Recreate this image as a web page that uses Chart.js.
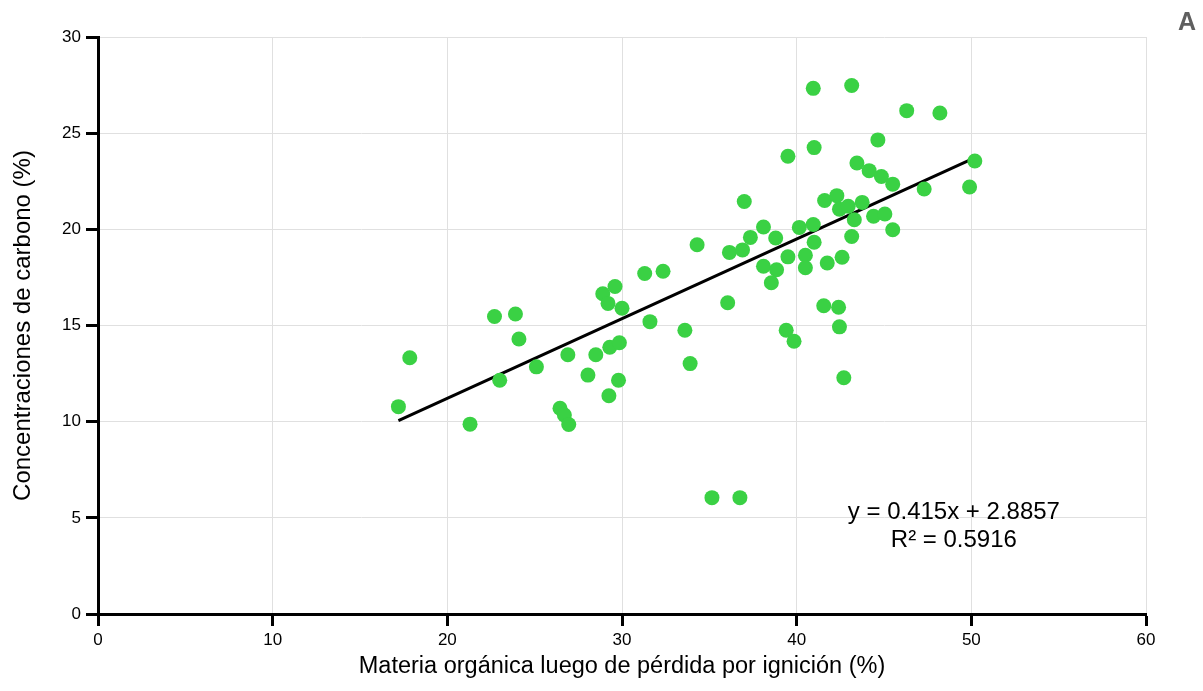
<!DOCTYPE html>
<html lang="es">
<head>
  <meta charset="UTF-8" />
  <title>Carbono vs materia orgánica</title>
  <script src="https://cdn.jsdelivr.net/npm/chart.js"></script>
  <style>
    * { box-sizing: border-box; }
    body { margin: 0; background: #fff; }
    #wrap { width: 1203px; height: 691px; position: relative; }
  </style>
</head>
<body>
  <div id="wrap">
    <canvas id="grafico"></canvas>
  </div>

  <script>
    // Materia orgánica (LOI, %) y concentración de carbono (%)
    const loi = [
      17.2, 17.85, 21.3, 22.7, 23.9, 24.1, 23.0, 25.1, 26.45, 26.7,
      26.95, 26.9, 28.05, 28.5, 29.25, 29.8, 29.3, 29.85, 30.0, 28.9,
      29.2, 29.6, 31.6, 33.6, 33.9, 34.3, 36.15, 36.9, 37.35, 38.1,
      38.8, 37.0, 39.5, 40.15, 40.95, 41.0, 40.95, 41.0, 43.15, 44.65,
      46.3, 48.2, 43.45, 44.15, 44.85, 45.5, 47.3, 50.2, 49.9, 41.6,
      42.3, 42.45, 42.95, 43.75, 43.3, 44.4, 45.05, 45.5, 43.15, 40.5,
      40.5, 39.5, 38.1, 38.85, 38.55, 41.75, 42.6, 36.05, 41.55, 42.4,
      31.3, 32.35, 39.4, 39.85, 42.45, 42.7, 35.15, 36.75
    ];
    const carbono = [
      10.78, 13.32, 9.87, 15.47, 15.6, 14.3, 12.15, 12.85, 10.7, 10.35,
      9.85, 13.48, 12.42, 13.48, 11.35, 12.15, 13.87, 14.1, 15.9, 16.65,
      16.15, 17.03, 15.2, 14.75, 13.02, 19.2, 18.8, 18.93, 19.58, 20.12,
      19.55, 21.45, 23.8, 20.1, 20.25, 19.33, 27.33, 24.25, 27.48, 24.65,
      26.17, 26.05, 23.45, 23.05, 22.75, 22.35, 22.1, 23.55, 22.2, 21.5,
      21.75, 21.05, 21.2, 21.4, 20.5, 20.68, 20.8, 19.98, 19.63, 18.65,
      18.0, 18.57, 18.08, 17.9, 17.22, 18.25, 18.55, 16.18, 16.03, 15.95,
      17.7, 17.82, 14.75, 14.18, 14.93, 12.28, 6.05, 6.05
    ];

    // Recta de tendencia (extremos)
    const tendenciaX = [17.2, 49.9];
    const tendenciaY = [10.05, 23.6];
    const ecuacion = ["y = 0.415x + 2.8857", "R² = 0.5916"];

    const ejeXTicks = [0, 10, 20, 30, 40, 50, 60];
    const ejeYTicks = [0, 5, 10, 15, 20, 25, 30];

    const tituloX = "Materia orgánica luego de pérdida por ignición (%)";
    const tituloY = "Concentraciones de carbono (%)";
    const letraPanel = "A";

    const fuente = "'Liberation Sans', Arial, sans-serif";

    const puntos = loi.map((x, i) => ({ x: x, y: carbono[i] }));
    const recta = tendenciaX.map((x, i) => ({ x: x, y: tendenciaY[i] }));

    // textos extra: ecuación y letra del panel
    const textosExtra = {
      id: 'textosExtra',
      afterDatasetsDraw(chart) {
        const ctx = chart.ctx;
        const sx = chart.scales.x;
        const sy = chart.scales.y;
        ctx.save();
        ctx.fillStyle = '#000';
        ctx.font = "24px " + fuente;
        ctx.textAlign = 'center';
        ctx.textBaseline = 'middle';
        ctx.fillText(ecuacion[0], sx.getPixelForValue(49.0), sy.getPixelForValue(5.3));
        ctx.fillText(ecuacion[1], sx.getPixelForValue(49.0), sy.getPixelForValue(3.85));

        ctx.fillStyle = '#5f5f5f';
        ctx.font = "bold 25px " + fuente;
        ctx.fillText(letraPanel, 1187, 23);
        ctx.restore();
      }
    };

    new Chart(document.getElementById("grafico"), {
      type: 'scatter',
      data: {
        datasets: [
          {
            label: 'Muestras',
            data: puntos,
            backgroundColor: '#3ad144',
            borderWidth: 0,
            pointRadius: 7.5,
            pointHoverRadius: 7.5,
            order: 1
          },
          {
            label: 'Tendencia',
            type: 'line',
            data: recta,
            borderColor: '#000',
            borderWidth: 3,
            pointRadius: 0,
            fill: false,
            order: 2
          }
        ]
      },
      options: {
        responsive: true,
        maintainAspectRatio: false,
        animation: false,
        events: [],
        layout: {
          padding: { top: 37, right: 57, bottom: 0, left: 0 }
        },
        plugins: {
          legend: { display: false },
          tooltip: { enabled: false }
        },
        scales: {
          x: {
            type: 'linear',
            min: 0,
            max: 60,
            afterBuildTicks: (s) => { s.ticks = ejeXTicks.map(v => ({ value: v })); },
            afterFit: (s) => { s.height = 77; },
            border: { display: true, color: '#000', width: 3 },
            grid: {
              color: '#e0e0e0',
              lineWidth: 1,
              tickColor: '#000',
              tickWidth: 3,
              tickLength: 12
            },
            ticks: {
              color: '#000',
              padding: 4,
              font: { family: fuente, size: 17 }
            },
            title: {
              display: true,
              text: tituloX,
              color: '#000',
              padding: { top: 0, bottom: 10 },
              font: { family: fuente, size: 23.5 }
            }
          },
          y: {
            type: 'linear',
            min: 0,
            max: 30,
            afterBuildTicks: (s) => { s.ticks = ejeYTicks.map(v => ({ value: v })); },
            afterFit: (s) => { s.width = 98; },
            border: { display: true, color: '#000', width: 3 },
            grid: {
              color: '#e0e0e0',
              lineWidth: 1,
              tickColor: '#000',
              tickWidth: 3,
              tickLength: 12
            },
            ticks: {
              color: '#000',
              padding: 5,
              font: { family: fuente, size: 17 }
            },
            title: {
              display: true,
              text: tituloY,
              color: '#000',
              padding: { top: 9, bottom: 0 },
              font: { family: fuente, size: 24 }
            }
          }
        }
      },
      plugins: [textosExtra]
    });
  </script>
</body>
</html>
